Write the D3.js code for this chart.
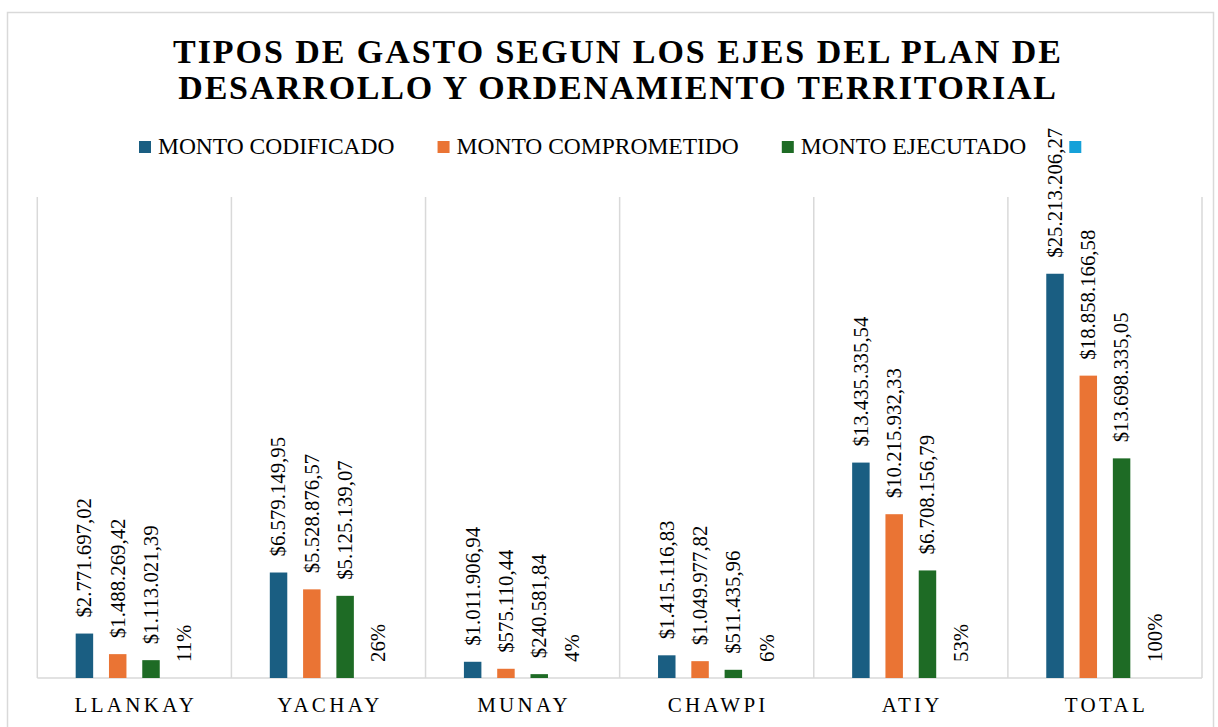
<!DOCTYPE html>
<html>
    <head>
        <title>Tipos de gasto</title>
        <script src="https://d3js.org/d3.v7.min.js"></script>
        <style>
            body {
                margin: 0;
                background-color: white;
            }
        </style>
    </head>

    <body>
        <svg id="myCanvas" width="1218" height="727"></svg>

        <script>
            // datos
            categorias = ["LLANKAY", "YACHAY", "MUNAY", "CHAWPI", "ATIY", "TOTAL"]
            series = ["MONTO CODIFICADO", "MONTO COMPROMETIDO", "MONTO EJECUTADO", ""]
            codificado = [2771697.02, 6579149.95, 1011906.94, 1415116.83, 13435335.54, 25213206.27]
            comprometido = [1488269.42, 5528876.57, 575110.44, 1049977.82, 10215932.33, 18858166.58]
            ejecutado = [1113021.39, 5125139.07, 240581.84, 511435.96, 6708156.79, 13698335.05]
            porcentaje = [0.11, 0.26, 0.04, 0.06, 0.53, 1.00]
            yMax = 30000000

            colores = ["#1a5e82", "#ea7434", "#1e6b25", "#15a1d9"]
            fuente = "Liberation Serif"

            locale = d3.formatLocale({decimal: ",", thousands: ".", grouping: [3], currency: ["$", ""]})
            fmtMonto = locale.format("$,.2f")
            fmtPct = locale.format(".0%")

            var svg = d3.select("#myCanvas");

            // marco del grafico
            svg.append("rect")
                .attr("x", 7.5).attr("y", 12.5)
                .attr("width", 1206).attr("height", 730)
                .attr("fill", "white")
                .attr("stroke", "#d9d9d9")
                .attr("stroke-width", 1.5)

            // titulo
            titulo = ["TIPOS DE GASTO SEGUN LOS EJES DEL PLAN DE", "DESARROLLO Y ORDENAMIENTO TERRITORIAL"]
            svg.selectAll(".titulo")
                .data(titulo)
                .join("text")
                .attr("class", "titulo")
                .attr("x", 618)
                .attr("y", (d, i) => 62.5 + i * 36.7)
                .attr("text-anchor", "middle")
                .style("font-family", fuente)
                .style("font-size", "34px")
                .style("font-weight", "bold")
                .style("letter-spacing", (d, i) => i == 0 ? "1.95px" : "1.75px")
                .text(d => d)

            // leyenda
            leg = svg.append("g")
            var lx = 139
            series.forEach((s, i) => {
                leg.append("rect")
                    .attr("x", lx).attr("y", 141)
                    .attr("width", 12).attr("height", 12)
                    .attr("fill", colores[i])
                t = leg.append("text")
                    .attr("x", lx + 19)
                    .attr("y", 153.5)
                    .style("font-family", fuente)
                    .style("font-size", "23.5px")
                    .text(s)
                lx = lx + 19 + t.node().getComputedTextLength() + 43
            })

            // escalas
            left = 37.3
            right = 1202
            base = 678
            top_ = 197

            x0 = d3.scaleBand(categorias, [left, right]).padding(0)
            x1 = d3.scaleBand(d3.range(4), [0, x0.bandwidth()])
                .paddingInner(0.475)
                .paddingOuter(1.153)
            y = d3.scaleLinear([0, yMax], [base, top_])

            // lineas de cuadricula verticales
            bordes = categorias.map(c => x0(c)).concat([right])
            svg.selectAll(".grid")
                .data(bordes)
                .join("line")
                .attr("class", "grid")
                .attr("x1", d => d).attr("x2", d => d)
                .attr("y1", top_).attr("y2", base)
                .attr("stroke", "#d9d9d9")
                .attr("stroke-width", 1.5)

            svg.append("line")
                .attr("x1", left).attr("x2", right)
                .attr("y1", base).attr("y2", base)
                .attr("stroke", "#d9d9d9")
                .attr("stroke-width", 1.5)

            // barras
            datos = []
            categorias.forEach((c, i) => {
                datos.push({cat: c, s: 0, v: codificado[i], label: fmtMonto(codificado[i])})
                datos.push({cat: c, s: 1, v: comprometido[i], label: fmtMonto(comprometido[i])})
                datos.push({cat: c, s: 2, v: ejecutado[i], label: fmtMonto(ejecutado[i])})
                datos.push({cat: c, s: 3, v: porcentaje[i], label: fmtPct(porcentaje[i])})
            })

            svg.selectAll(".barra")
                .data(datos)
                .join("rect")
                .attr("class", "barra")
                .attr("x", d => x0(d.cat) + x1(d.s))
                .attr("y", d => y(d.v))
                .attr("width", x1.bandwidth())
                .attr("height", d => base - y(d.v))
                .attr("fill", d => colores[d.s])

            // etiquetas de datos
            svg.selectAll(".etiqueta")
                .data(datos)
                .join("text")
                .attr("class", "etiqueta")
                .attr("transform", d => "translate(" + (x0(d.cat) + x1(d.s) + x1.bandwidth() / 2) +
                    "," + (y(d.v) - 16) + ") rotate(-90)")
                .attr("dy", "0.33em")
                .style("font-family", fuente)
                .style("font-size", "20.8px")
                .text(d => d.label)

            // etiquetas del eje
            svg.selectAll(".cat")
                .data(categorias)
                .join("text")
                .attr("class", "cat")
                .attr("x", d => x0(d) + x0.bandwidth() / 2 + 1.5)
                .attr("y", 712)
                .attr("text-anchor", "middle")
                .style("font-family", fuente)
                .style("font-size", "21px")
                .style("letter-spacing", "3.3px")
                .text(d => d)
        </script>
    </body>
</html>
